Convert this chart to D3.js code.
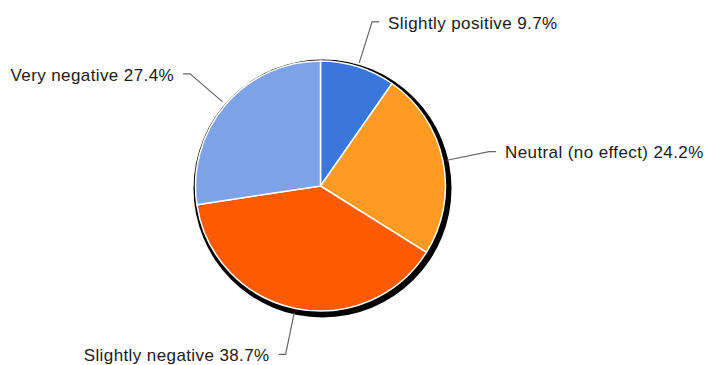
<!DOCTYPE html>
<html>
<head>
<meta charset="utf-8">
<script src="https://cdn.jsdelivr.net/npm/d3@7"></script>
<style>
  html, body { margin: 0; padding: 0; background: #fff; }
  svg { display: block; }
  text { font-family: "Liberation Sans", Arial, sans-serif; }
</style>
</head>
<body>
<svg id="chart" width="705" height="365"></svg>
<script>
// Survey answers, in clockwise order from 12 o'clock
const categories = ["Slightly positive", "Neutral (no effect)", "Slightly negative", "Very negative"];
const shares = [9.7, 24.2, 38.7, 27.4];
const labels = ["Slightly positive 9.7%", "Neutral (no effect) 24.2%", "Slightly negative 38.7%", "Very negative 27.4%"];
const colors = ["#3977da", "#ff9a22", "#ff5a04", "#7ca3e8"];

const svg = d3.select("#chart");
const cx = 320.5, cy = 186, radius = 125;

const data = categories.map((c, i) => ({ category: c, value: shares[i], label: labels[i], color: colors[i] }));

const pie = d3.pie().value(d => d.value).sort(null);
const arcs = pie(data);
const arc = d3.arc().innerRadius(0).outerRadius(radius);

const g = svg.append("g").attr("transform", `translate(${cx},${cy})`);

// drop shadow behind the pie
g.append("circle")
  .attr("cx", 2).attr("cy", 2.5)
  .attr("r", radius + 4)
  .attr("fill", "#000");

g.selectAll("path.slice")
  .data(arcs)
  .join("path")
  .attr("class", "slice")
  .attr("d", arc)
  .attr("fill", d => d.data.color)
  .attr("stroke", "#fff")
  .attr("stroke-width", 1.5)
  .attr("stroke-linejoin", "round");

// leader lines and labels
const rStart = 129, rElbow = 172, tail = 7, gap = 9;
const pt = (a, r) => [Math.sin(a) * r, -Math.cos(a) * r];

arcs.forEach(d => {
  const a = (d.startAngle + d.endAngle) / 2;
  const p0 = pt(a, rStart);
  const p1 = pt(a, rElbow);
  const right = Math.sin(a) >= 0;
  const p2 = [p1[0] + (right ? tail : -tail), p1[1]];
  g.append("polyline")
    .attr("points", [p0, p1, p2].map(p => p.join(",")).join(" "))
    .attr("fill", "none")
    .attr("stroke", "#666")
    .attr("stroke-width", 1.2);
  g.append("text")
    .attr("x", p2[0] + (right ? gap : -gap))
    .attr("y", p2[1])
    .attr("dy", "0.4em")
    .attr("text-anchor", right ? "start" : "end")
    .attr("font-size", 17)
    .attr("letter-spacing", 0.4)
    .attr("fill", "#1a1a1a")
    .text(d.data.label);
});
</script>
</body>
</html>
